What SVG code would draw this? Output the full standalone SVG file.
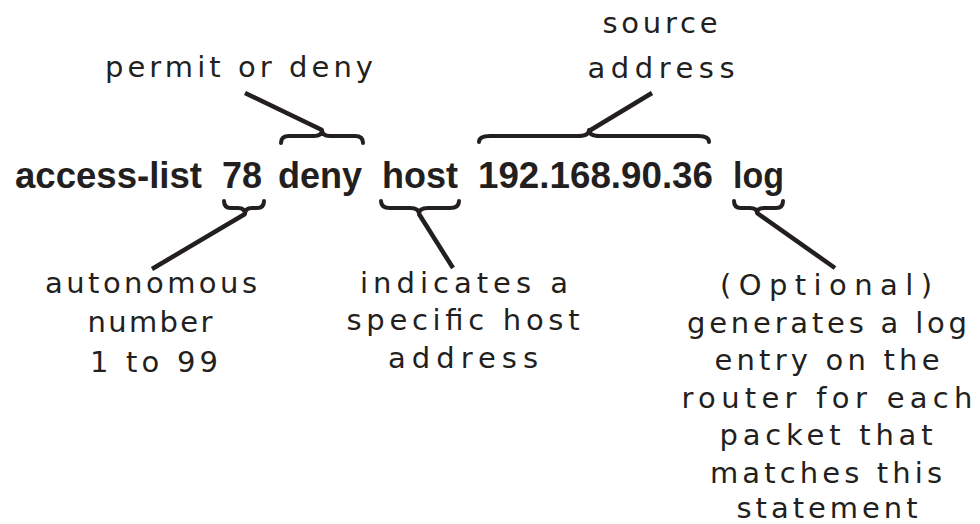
<svg xmlns="http://www.w3.org/2000/svg" width="980" height="524" viewBox="0 0 980 524">
<style>
.cmd{font-family:"Liberation Sans",Arial,sans-serif;font-weight:bold;font-size:36px;fill:#231f20}
.hw{font-family:"DejaVu Sans","Noto Sans",sans-serif;font-size:29px;fill:#231f20;text-anchor:middle}
.br{fill:none;stroke:#231f20;stroke-width:4;stroke-linecap:round;stroke-linejoin:round}
.ln{fill:none;stroke:#231f20;stroke-width:4.5;stroke-linecap:butt}
</style>
<rect width="980" height="524" fill="#ffffff"/>
<g id="command">
<text class="cmd" x="15" y="188" textLength="187" lengthAdjust="spacingAndGlyphs">access-list</text>
<text class="cmd" x="222" y="188">78</text>
<text class="cmd" x="278" y="188">deny</text>
<text class="cmd" x="382" y="188">host</text>
<text class="cmd" x="478" y="188" textLength="235" lengthAdjust="spacingAndGlyphs">192.168.90.36</text>
<text class="cmd" x="733" y="188" textLength="51" lengthAdjust="spacingAndGlyphs">log</text>
</g>
<g id="connectors">
<path class="br" d="M281,143 Q281,136 289,136 L314,136 Q322,136 322,130 Q322,136 330,136 L355,136 Q363,136 363,143"/>
<path class="br" d="M479,142 Q479,136 490,136 L578,136 Q589,136 589,130 Q589,136 600,136 L698,136 Q709,136 709,142"/>
<path class="br" d="M224,201 Q224,208 231,208 L238,208 Q245,208 245,214 Q245,208 252,208 L257,208 Q264,208 264,201"/>
<path class="br" d="M381,201 Q381,208 390,208 L410,208 Q419,208 419,214 Q419,208 428,208 L450,208 Q459,208 459,201"/>
<path class="br" d="M734,201 Q734,208 741,208 L750,208 Q757,208 757,213 Q757,208 764,208 L776,208 Q783,208 783,201"/>
<line class="ln" x1="322" y1="130" x2="245" y2="93"/>
<line class="ln" x1="589" y1="131" x2="652" y2="93"/>
<line class="ln" x1="245" y1="214" x2="152" y2="269"/>
<line class="ln" x1="419" y1="214" x2="453" y2="268"/>
<line class="ln" x1="757" y1="213" x2="835" y2="268"/>
</g>
<g id="label-permit">
<text class="hw" x="239" y="77" textLength="268" lengthAdjust="spacing">permit or deny</text>
</g>
<g id="label-source">
<text class="hw" x="660" y="33" textLength="115" lengthAdjust="spacing">source</text>
<text class="hw" x="661" y="78" textLength="147" lengthAdjust="spacing">address</text>
</g>
<g id="label-autonomous">
<text class="hw" x="151" y="293" textLength="212" lengthAdjust="spacing">autonomous</text>
<text class="hw" x="150" y="332" textLength="125" lengthAdjust="spacing">number</text>
<text class="hw" x="154" y="372" textLength="128" lengthAdjust="spacing">1 to 99</text>
</g>
<g id="label-host">
<text class="hw" x="464" y="293" textLength="208" lengthAdjust="spacing">indicates a</text>
<text class="hw" x="463" y="330" textLength="233" lengthAdjust="spacing">specific host</text>
<text class="hw" x="463" y="368" textLength="150" lengthAdjust="spacing">address</text>
</g>
<g id="label-log">
<text class="hw" x="826" y="295" textLength="212" lengthAdjust="spacing">(Optional)</text>
<text class="hw" x="827" y="333" textLength="280" lengthAdjust="spacing">generates a log</text>
<text class="hw" x="827" y="370" textLength="225" lengthAdjust="spacing">entry on the</text>
<text class="hw" x="827" y="408" textLength="291" lengthAdjust="spacing">router for each</text>
<text class="hw" x="826" y="445" textLength="213" lengthAdjust="spacing">packet that</text>
<text class="hw" x="826" y="483" textLength="232" lengthAdjust="spacing">matches this</text>
<text class="hw" x="827" y="518" textLength="181" lengthAdjust="spacing">statement</text>
</g>
</svg>
